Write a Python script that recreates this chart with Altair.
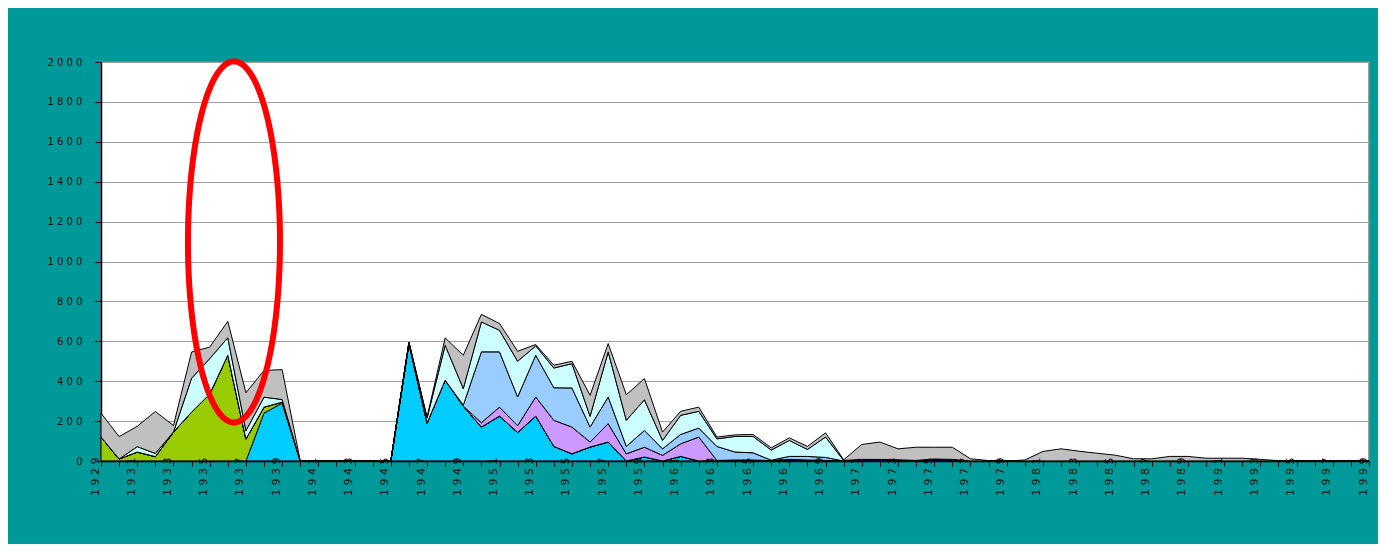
import altair as alt
import pandas as pd
import numpy as np

years = list(range(1929, 2000))

# stacked layers, bottom to top (values per year 1929..1999)
cyan = [0, 0, 0, 0, 0, 0, 0, 0, 0, 240,
        290, 0, 0, 0, 0, 0, 0, 590, 190, 405,
        275, 170, 225, 143, 225, 73, 36, 70, 95, 0,
        20, 0, 23, 0, 0, 0, 0, 0, 0, 0,
        0, 0, 0, 0, 0, 0, 0, 0, 0, 0,
        0, 0, 0, 0, 0, 0, 0, 0, 0, 0,
        0, 0, 0, 0, 0, 0, 0, 0, 0, 0,
        0]
green = [120, 10, 45, 22, 145, 245, 335, 530, 110, 30,
         5, 0, 0, 0, 0, 0, 0, 0, 0, 0,
         0, 0, 0, 0, 0, 0, 0, 0, 0, 0,
         0, 0, 0, 0, 0, 0, 0, 0, 0, 0,
         0, 0, 0, 0, 0, 0, 0, 0, 0, 0,
         0, 0, 0, 0, 0, 0, 0, 0, 0, 0,
         0, 0, 0, 0, 0, 0, 0, 0, 0, 0,
         0]
dark = [0, 0, 0, 0, 0, 0, 0, 0, 0, 0,
        0, 0, 0, 0, 0, 0, 0, 0, 0, 0,
        0, 0, 0, 0, 0, 0, 0, 0, 0, 0,
        0, 0, 0, 0, 3, 5, 5, 2, 8, 5,
        3, 0, 8, 8, 6, 3, 10, 8, 0, 0,
        0, 0, 0, 0, 0, 0, 0, 0, 0, 0,
        0, 0, 0, 0, 0, 0, 0, 0, 0, 0,
        0]
violet = [0, 0, 0, 0, 0, 0, 0, 0, 0, 0,
          0, 0, 0, 0, 0, 0, 0, 0, 0, 0,
          0, 22, 45, 34, 96, 131, 134, 25, 92, 36,
          49, 28, 63, 120, 0, 0, 0, 0, 0, 0,
          0, 0, 0, 0, 0, 0, 0, 0, 0, 0,
          0, 0, 0, 0, 0, 0, 0, 0, 0, 0,
          0, 0, 0, 0, 0, 0, 0, 0, 0, 0,
          0]
lightblue = [0, 0, 0, 0, 0, 0, 0, 0, 0, 0,
             0, 0, 0, 0, 0, 0, 0, 0, 0, 0,
             5, 355, 277, 144, 209, 163, 196, 75, 134, 37,
             84, 33, 47, 45, 70, 40, 36, 2, 15, 18,
             15, 0, 0, 0, 0, 0, 0, 0, 0, 0,
             0, 0, 0, 0, 0, 0, 0, 0, 0, 0,
             0, 0, 0, 0, 0, 0, 0, 0, 0, 0,
             0]
lightcyan = [0, 0, 27, 16, 0, 170, 178, 88, 42, 50,
             13, 0, 0, 0, 0, 0, 0, 5, 25, 175,
             83, 150, 108, 179, 47, 99, 122, 54, 226, 131,
             154, 42, 96, 84, 38, 78, 82, 51, 80, 35,
             102, 3, 0, 0, 0, 0, 0, 0, 0, 0,
             0, 0, 0, 0, 0, 0, 0, 0, 0, 0,
             0, 0, 0, 0, 0, 0, 0, 0, 0, 0,
             0]
gray = [120, 112, 102, 210, 33, 131, 58, 82, 190, 134,
        150, 0, 0, 0, 0, 0, 0, 0, 5, 37,
        167, 38, 34, 50, 7, 14, 12, 105, 42, 128,
        106, 42, 20, 21, 9, 8, 10, 11, 13, 15,
        21, 3, 75, 87, 55, 66, 59, 61, 11, 2,
        0, 5, 48, 61, 49, 39, 29, 11, 11, 23,
        23, 14, 14, 14, 8, 2, 0, 0, 0, 0,
        0]

series_names = ["S1", "S2", "S3", "S4", "S5", "S6", "S7"]
series_values = [cyan, green, dark, violet, lightblue, lightcyan, gray]
series_colors = ["#00CCFF", "#99CC00", "#000080", "#CC99FF", "#99CCFF", "#CCFFFF", "#C0C0C0"]

y_ticks = list(range(0, 2001, 200))

# red ellipse annotation (centre year, centre value, half-width in years, half-height in values)
ell_cx, ell_cy, ell_rx, ell_ry = 1936.34, 1098, 2.54, 905

rows = []
for k, (name, vals) in enumerate(zip(series_names, series_values)):
    for yr, v in zip(years, vals):
        rows.append({"year": yr, "value": v, "series": name, "k": k})
df = pd.DataFrame(rows)

t = np.linspace(0, 2 * np.pi, 241)
df_e = pd.DataFrame({"x": ell_cx + ell_rx * np.cos(t), "y": ell_cy + ell_ry * np.sin(t), "i": np.arange(len(t))})

xscale = alt.Scale(domain=[1929, 1999], nice=False, zero=False)
yscale = alt.Scale(domain=[0, 2000], nice=False)

area = alt.Chart(df).mark_area(stroke="black", strokeWidth=1, interpolate="linear").encode(
    x=alt.X("year:Q", scale=xscale, axis=alt.Axis(
        values=years, tickCount=200,
        labelExpr="datum.value % 2 == 1 ? join(split(toString(datum.value), ''), ' ') : ''",
        labelAngle=270, labelAlign="right", labelBaseline="alphabetic",
        labelPadding=-9, labelOffset=-3, tickSize=5, tickColor="black", domainColor="black",
        domainWidth=1.5, grid=False, labelColor="#111111", labelFont="DejaVu Sans",
        labelFontSize=11, title=None, labelOverlap=False, labelFlush=False, zindex=1)),
    y=alt.Y("value:Q", stack="zero", scale=yscale, axis=alt.Axis(
        values=y_ticks, tickCount=50, labelOverlap=False,
        labelExpr="join(split(toString(datum.value), ''), ' ')",
        tickSize=6, tickColor="black", domainColor="black", domainWidth=1.5,
        gridColor="#A0A0A0", gridWidth=1, labelPadding=13, labelFontSize=10,
        labelFont="DejaVu Sans", labelColor="#111111", title=None)),
    fill=alt.Fill("series:N", scale=alt.Scale(domain=series_names, range=series_colors), legend=None),
    order=alt.Order("k:Q", sort="ascending"),
)

ellipse = alt.Chart(df_e).mark_line(color="#FF0000", strokeWidth=6, clip=False).encode(
    x=alt.X("x:Q", scale=xscale),
    y=alt.Y("y:Q", scale=yscale),
    order="i:Q",
)

chart = alt.layer(area, ellipse).properties(
    width=1268, height=399,
    autosize=alt.AutoSizeParams(type="none"),
    padding={"left": 93, "top": 54, "right": 9, "bottom": 83},
    background="#009999",
).configure_view(fill="white", stroke="#808080", strokeWidth=1.5)

chart.save("out.html", embed_options={"renderer": "svg", "actions": False})
